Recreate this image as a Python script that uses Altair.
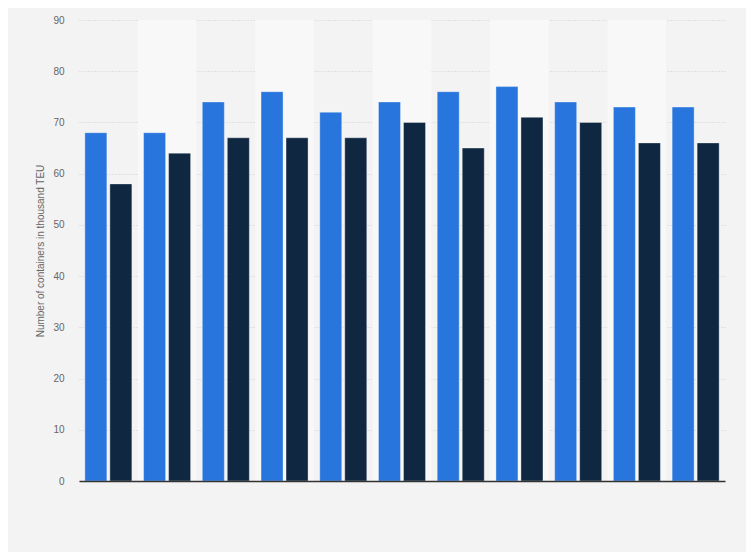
import altair as alt
import pandas as pd

groups = [f"G{i+1:02d}" for i in range(11)]
series = ["Series A", "Series B"]
values_a = [68, 68, 74, 76, 72, 74, 76, 77, 74, 73, 73]
values_b = [58, 64, 67, 67, 67, 70, 65, 71, 70, 66, 66]
colors = ["#2876dd", "#0f2740"]

rows = []
for g, a, b in zip(groups, values_a, values_b):
    rows.append({"group": g, "series": series[0], "value": a})
    rows.append({"group": g, "series": series[1], "value": b})
df = pd.DataFrame(rows)

bands = pd.DataFrame({"group": groups[1::2]})

xscale = alt.Scale(domain=groups, paddingInner=0, paddingOuter=0)
xaxis = alt.Axis(labels=False, ticks=False, title=None, domain=True,
                 domainColor="#333333", domainWidth=1.5, grid=False)

bg = alt.Chart(bands).mark_rect(color="#f8f8f8").encode(
    x=alt.X("group:N", scale=xscale, axis=xaxis),
    y=alt.value(0),
    y2=alt.value(461),
)

bars = alt.Chart(df).mark_bar(stroke="#ffffff", strokeOpacity=0.35, strokeWidth=1).encode(
    x=alt.X("group:N", scale=xscale, axis=xaxis),
    xOffset=alt.XOffset("series:N", scale=alt.Scale(domain=series, paddingInner=0.12, paddingOuter=0.234)),
    y=alt.Y("value:Q", scale=alt.Scale(domain=[0, 90]),
            axis=alt.Axis(values=list(range(0, 91, 10)), title="Number of containers in thousand TEU",
                          titleFontSize=10, titleFontWeight="normal", titleColor="#666666",
                          titleFont="Liberation Sans", titlePadding=7,
                          labelFont="Liberation Sans", labelFontSize=10, labelColor="#666666",
                          labelPadding=15, ticks=False, domain=False,
                          grid=True, gridColor="#cfcfcf", gridDash=[1, 2], gridWidth=1)),
    color=alt.Color("series:N", scale=alt.Scale(domain=series, range=colors), legend=None),
)

chart = alt.layer(bg, bars).properties(
    width=646, height=461,
    autosize=alt.AutoSizeParams(type="none"),
    padding={"left": 71, "top": 12, "right": 21, "bottom": 71},
    background="#f3f3f3",
).configure_view(stroke=None, fill="#f3f3f3")

chart.save("out.html", embed_options={"renderer": "svg", "actions": False})
